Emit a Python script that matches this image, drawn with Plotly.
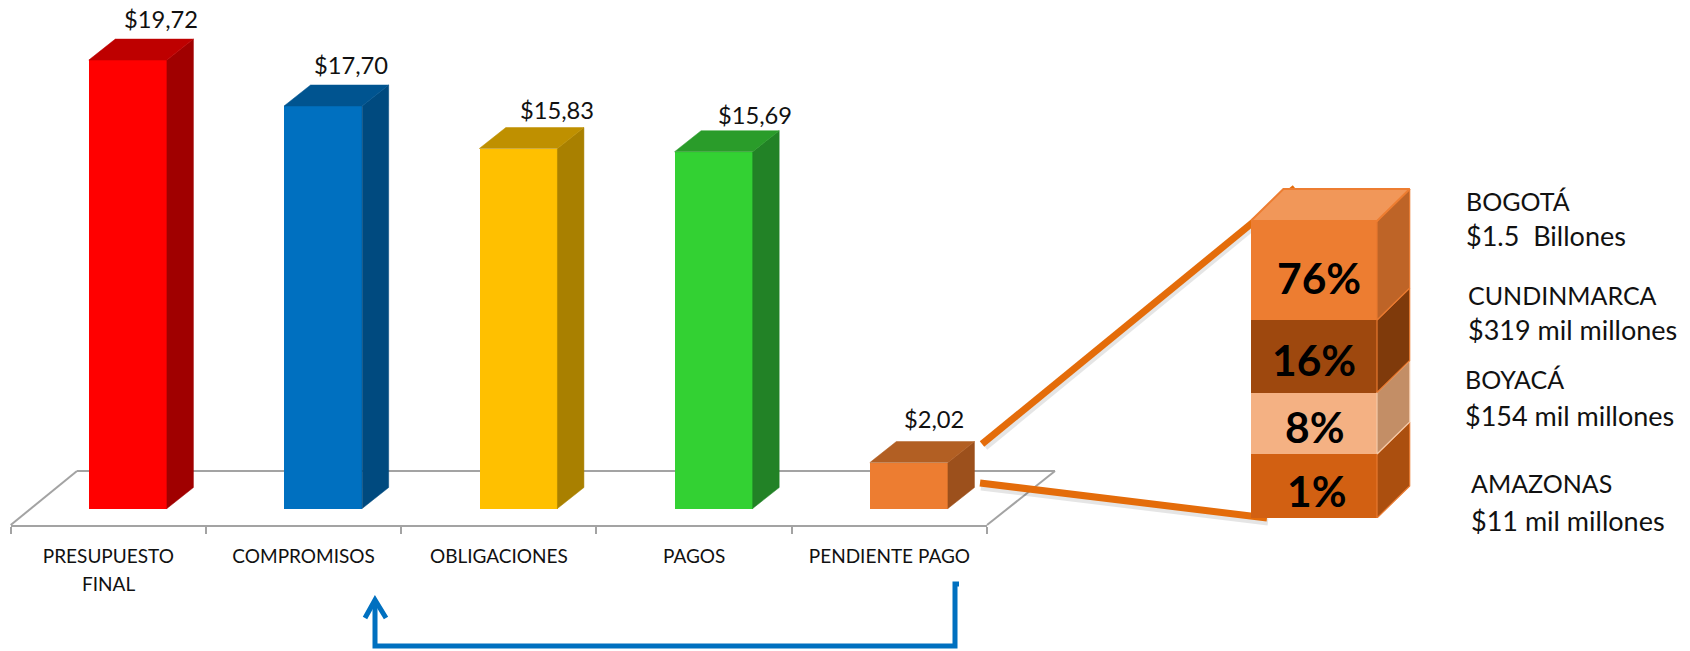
import plotly.graph_objects as go

W, H = 1690, 651
FONT = "Lato"

# ---- data
categories = ["PRESUPUESTO", "COMPROMISOS", "OBLIGACIONES", "PAGOS", "PENDIENTE PAGO"]
category_second_line = ["FINAL", "", "", "", ""]
values = [19.72, 17.70, 15.83, 15.69, 2.02]
value_labels = ["$19,72", "$17,70", "$15,83", "$15,69", "$2,02"]

stack_names = ["AMAZONAS", "BOYACÁ", "CUNDINMARCA", "BOGOTÁ"]
stack_amounts = ["$11 mil millones", "$154 mil millones", "$319 mil millones", "$1.5\u00a0\u00a0Billones"]
stack_pct = ["1%", "8%", "16%", "76%"]
stack_heights = [64, 61.5, 72.5, 99]   # drawn heights (not proportional to the %)

# ---- styles
front = ["#FF0000", "#0070C0", "#FFC000", "#33D133", "#ED7D31"]
side = ["#A00000", "#004A7F", "#A98000", "#228226", "#9C501C"]
top = ["#BE0000", "#005490", "#BF9000", "#2A9C2A", "#B25F23"]
label_dx = [33, 28, 39, 41, 25]
label_dy = [41, 41, 39, 37, 44]

st_front = ["#D26012", "#F4B183", "#9E480E", "#ED7D31"]
st_side = ["#AB4F0F", "#C38E66", "#7F3A0B", "#BE6427"]
st_top = "#F19759"
pct_dx = [3, 1, 0, 5]
pct_dy = [-4, -3, -3, -7]
name_pos = [(1470, 483), (1464, 379), (1467, 295), (1464.5, 200.7)]
amt_pos = [(1470, 520), (1464, 415), (1467, 329), (1464.5, 235.7)]

# pixel geometry of the plot areas
X0, X1 = 10.7, 987.0
PX_PER_CAT = (X1 - X0) / 5
Y_BOTTOM, Y_BASE = 525.0, 508.5
PX_PER_VAL = 22.74
bar_w, bar_off = 0.40, -0.10
depth_x, depth_y = 26.5 / PX_PER_CAT, 21 / PX_PER_VAL

SX0, SX_FRONT_R, SX1 = 1250.7, 1377.0, 1414.0
SY_BASE, SY_TOP = 518.0, 170.0
s_dx, s_dy = 32.7 / (SX_FRONT_R - SX0), 32.0


def px(x):
    return x / W


def py(y):
    return 1 - y / H


def poly(xs, ys, fill, ax="", line=None, lw=0):
    return go.Scatter(
        x=xs, y=ys, xaxis="x" + ax, yaxis="y" + ax, mode="lines", fill="toself", fillcolor=fill,
        line=dict(color=line or fill, width=lw or 0.5), hoverinfo="skip", showlegend=False,
    )


fig = go.Figure()

# main bars
xpos = list(range(len(values)))
fig.add_trace(go.Bar(
    x=xpos, y=values, width=bar_w, offset=bar_off, marker=dict(color=front, line=dict(width=0)),
    showlegend=False, hovertemplate="%{y}<extra></extra>",
))
for i, v in zip(xpos, values):
    xl = i + bar_off
    xr = xl + bar_w
    fig.add_trace(poly([xr, xr + depth_x, xr + depth_x, xr, xr], [0, depth_y, v + depth_y, v, 0], side[i]))
    fig.add_trace(poly([xl, xl + depth_x, xr + depth_x, xr, xl], [v, v + depth_y, v + depth_y, v, v], top[i]))

# stacked bars
for k, (n, h) in enumerate(zip(stack_names, stack_heights)):
    fig.add_trace(go.Bar(
        x=[0], y=[h], width=1, offset=-0.5, xaxis="x2", yaxis="y2", name=n, showlegend=False,
        marker=dict(color=st_front[k], line=dict(width=0)), hoverinfo="skip",
    ))
base = 0
mids = []
for k, h in enumerate(stack_heights):
    y0, y1 = base, base + h
    fig.add_trace(poly([0.5, 0.5 + s_dx, 0.5 + s_dx, 0.5, 0.5], [y0, y0 + s_dy, y1 + s_dy, y1, y0],
                       st_side[k], "2", line="#E8792F" if k != 1 else "#F4C9A8", lw=1.2))
    mids.append((y0 + y1) / 2)
    base = y1
fig.add_trace(poly([-0.5, -0.5 + s_dx, 0.5 + s_dx, 0.5, -0.5], [base, base + s_dy, base + s_dy, base, base],
                   st_top, "2", line="#ED7D31", lw=2))

ann = []
for i, v in enumerate(values):
    ann.append(dict(x=i + bar_off + bar_w / 2, y=v, xref="x", yref="y", text=value_labels[i], showarrow=False,
                    xshift=label_dx[i], yshift=label_dy[i], font=dict(family=FONT, size=23.7, color="#111"),
                    xanchor="center", yanchor="middle"))
for i, extra in enumerate(category_second_line):
    if extra:
        ann.append(dict(x=i, y=py(583), xref="x", yref="paper", text=extra, showarrow=False,
                        font=dict(family=FONT, size=19, color="#111"), xanchor="center", yanchor="middle"))
for k, m in enumerate(mids):
    ann.append(dict(x=0, y=m, xref="x2", yref="y2", text=f"<b>{stack_pct[k]}</b>", showarrow=False,
                    xshift=pct_dx[k], yshift=pct_dy[k], font=dict(family=FONT, size=42.5, color="#000"),
                    xanchor="center", yanchor="middle"))
    for txt, pos, sz in ((stack_names[k], name_pos[k], 25), (stack_amounts[k], amt_pos[k], 27)):
        ann.append(dict(x=px(pos[0]), y=py(pos[1]), xref="paper", yref="paper", text=txt, showarrow=False,
                        font=dict(family=FONT, size=sz, color="#111"), xanchor="left", yanchor="middle",
                        borderpad=0))


def seg(x0, y0, x1, y1, color, width):
    return dict(type="line", xref="paper", yref="paper", x0=px(x0), y0=py(y0), x1=px(x1), y1=py(y1),
                line=dict(color=color, width=width), layer="below")


GREY = "#A3A3A3"
ORANGE = "#E46C0A"
SHADOW = "rgba(0,0,0,0.10)"
BLUE = "#0070C0"
path = "M {} {} L {} {} L {} {} L {} {} L {} {}".format(
    px(959), py(584), px(955), py(584), px(955), py(646), px(375), py(646), px(375), py(601))
head = "M {} {} L {} {} L {} {}".format(px(365), py(618), px(375), py(600), px(386), py(618))
shapes = [
    seg(X0, Y_BOTTOM, 77, 471, GREY, 2),
    seg(77, 471, 1055, 471, GREY, 2),
    seg(1055, 471, X1, Y_BOTTOM, GREY, 2),
    seg(985, 447, 1297, 191, SHADOW, 7),
    seg(982, 444, 1295, 188, ORANGE, 7),
    seg(981, 487, 1268, 522, SHADOW, 7),
    seg(980, 483, 1267, 518, ORANGE, 7),
    dict(type="path", xref="paper", yref="paper", path=path, line=dict(color=BLUE, width=5), layer="above"),
    dict(type="path", xref="paper", yref="paper", path=head, line=dict(color=BLUE, width=5), layer="above"),
]

fig.update_layout(
    width=W, height=H, margin=dict(l=0, r=0, t=0, b=0), paper_bgcolor="white", plot_bgcolor="rgba(0,0,0,0)",
    barmode="stack", bargap=0, annotations=ann, shapes=shapes, showlegend=False,
    font=dict(family=FONT),
    xaxis=dict(
        domain=[px(X0), px(X1)], range=[-0.5, 4.5], tickmode="array", tickvals=xpos, ticktext=categories,
        ticks="outside", ticklen=13, tickcolor="rgba(0,0,0,0)", tickfont=dict(family=FONT, size=19, color="#111"),
        showline=True, linecolor=GREY, linewidth=2, showgrid=False, zeroline=False, anchor="y",
        minor=dict(tickmode="array", tickvals=[-0.5, 0.5, 1.5, 2.5, 3.5, 4.5], ticks="outside", ticklen=7,
                   tickcolor=GREY, tickwidth=1.5, showgrid=False),
    ),
    yaxis=dict(
        domain=[py(Y_BOTTOM), 1], range=[-(Y_BOTTOM - Y_BASE) / PX_PER_VAL, Y_BASE / PX_PER_VAL],
        visible=False, showgrid=False, zeroline=False, anchor="x",
    ),
    xaxis2=dict(
        domain=[px(SX0), px(SX1)], range=[-0.5, -0.5 + (SX1 - SX0) / (SX_FRONT_R - SX0)],
        visible=False, showgrid=False, zeroline=False, anchor="y2",
    ),
    yaxis2=dict(
        domain=[py(SY_BASE), py(SY_TOP)], range=[0, SY_BASE - SY_TOP],
        visible=False, showgrid=False, zeroline=False, anchor="x2",
    ),
)

fig.write_html("out.html", config=dict(displayModeBar=False),
               post_script="document.body.style.margin='0';document.body.style.overflow='hidden';")
